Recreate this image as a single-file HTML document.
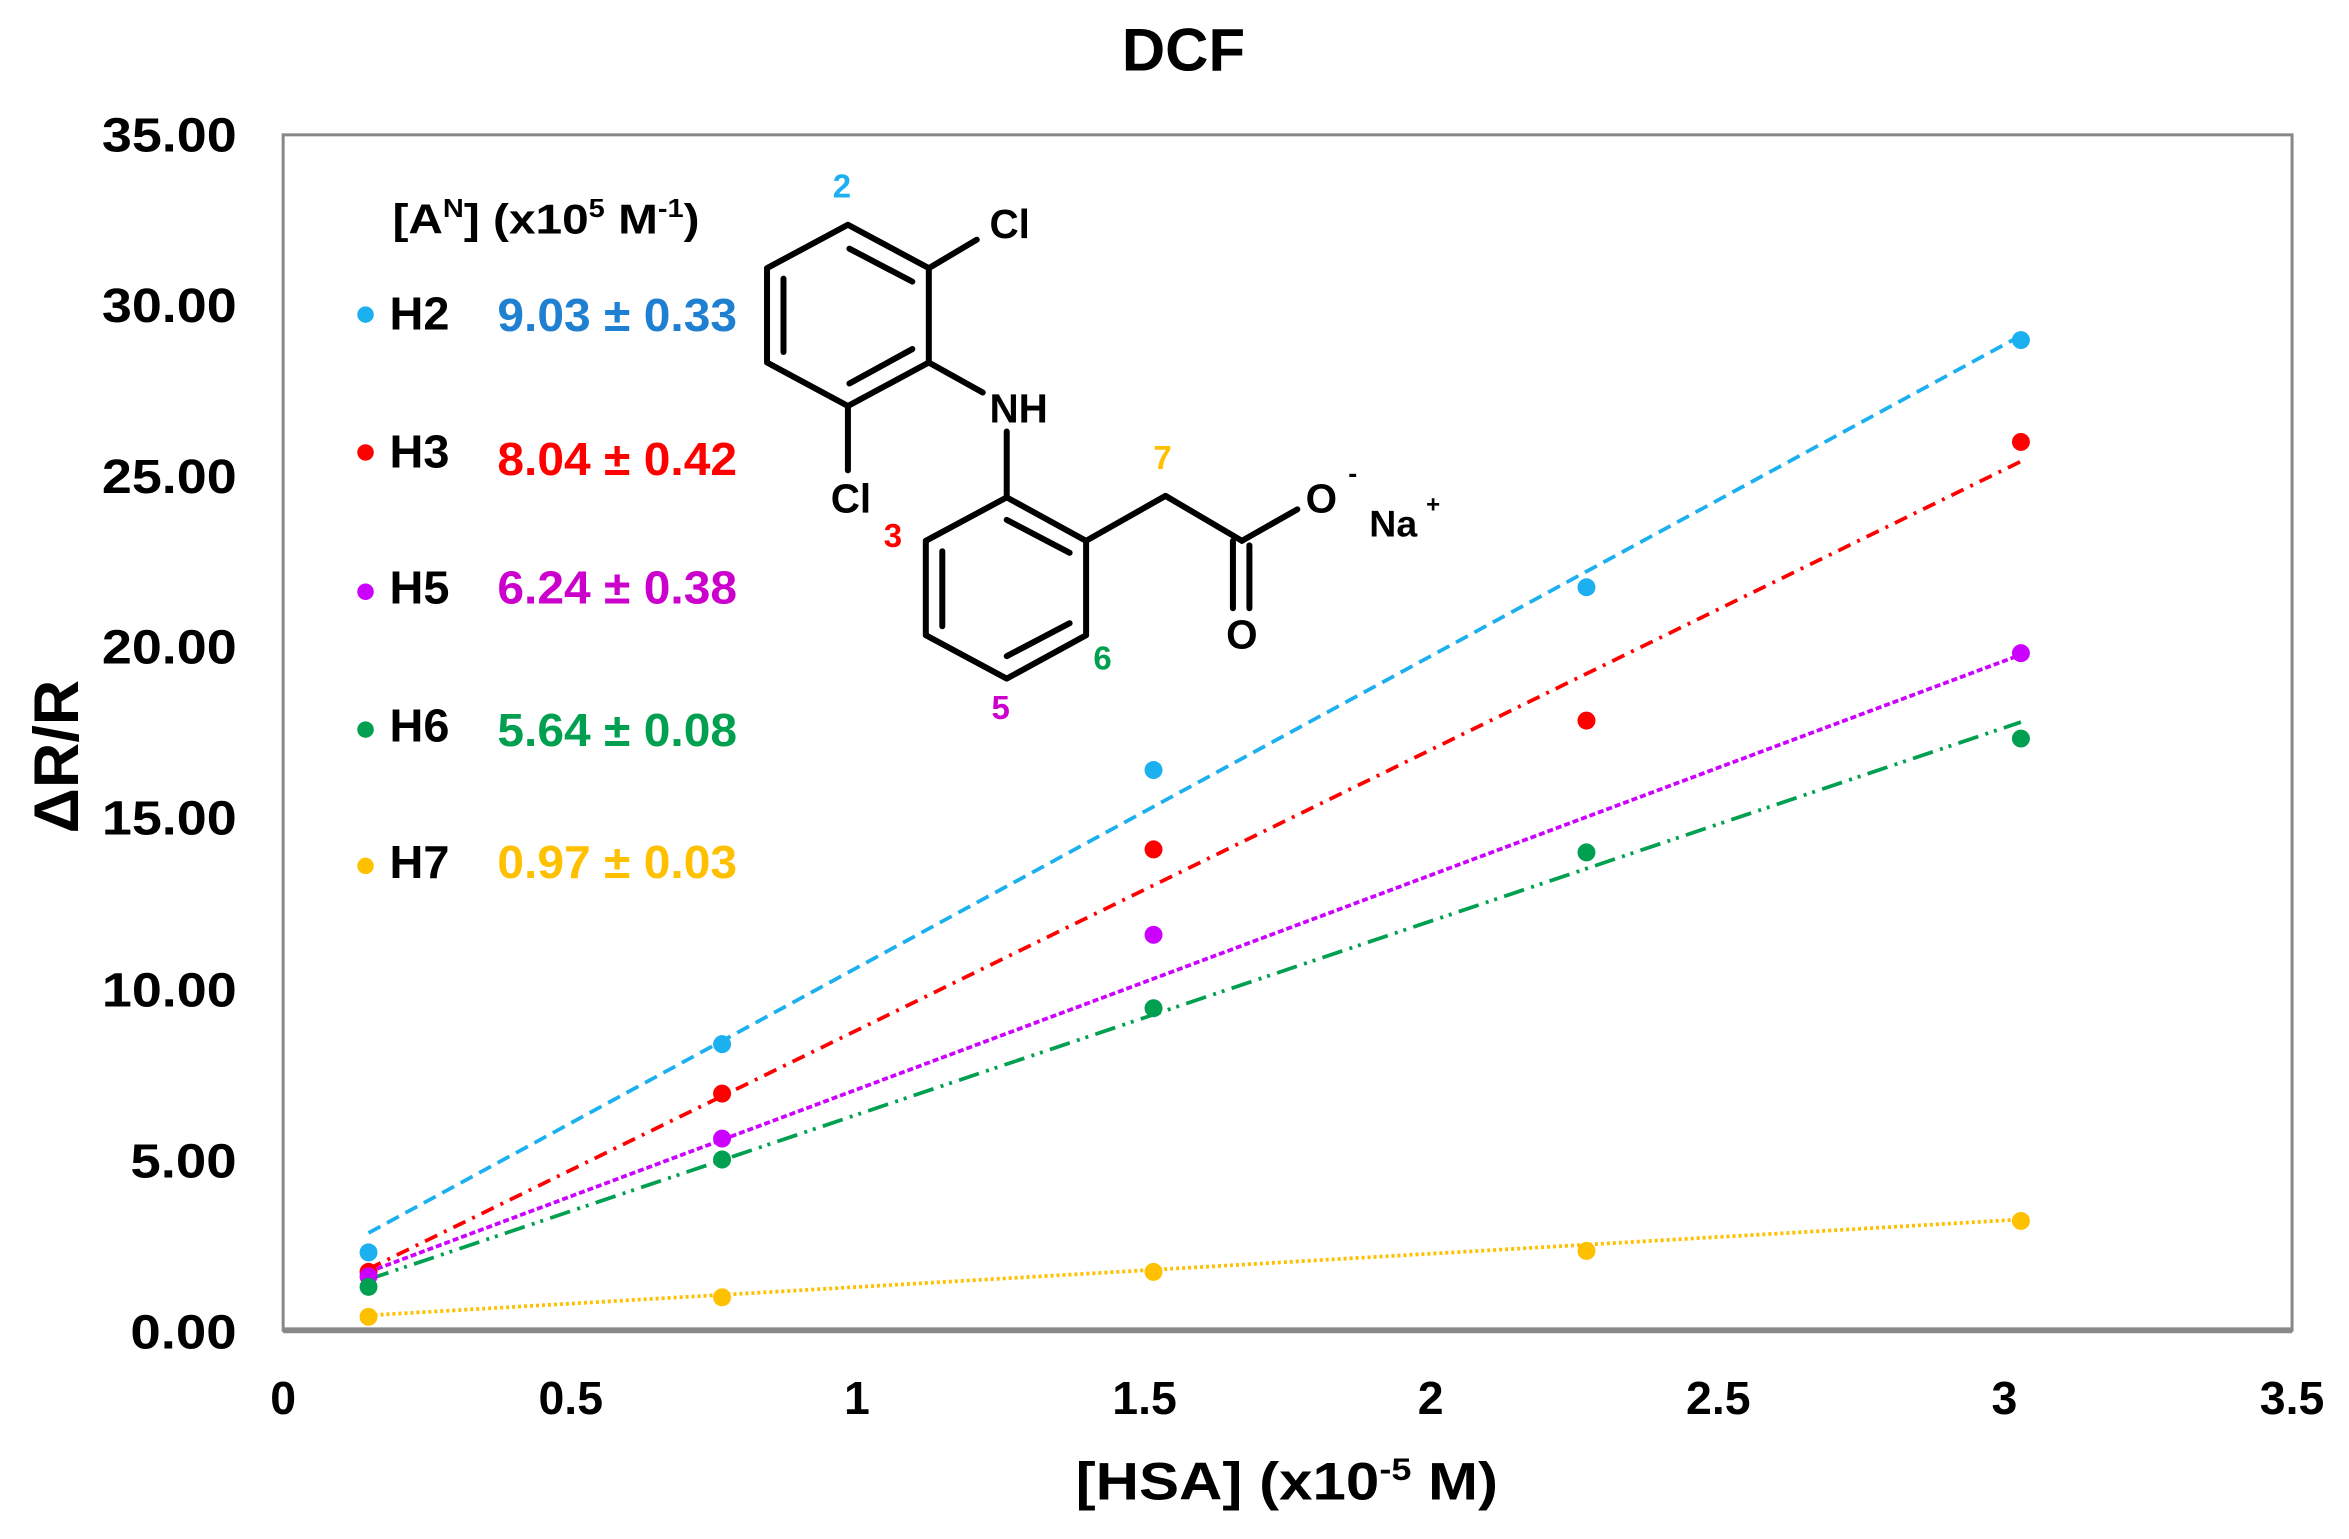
<!DOCTYPE html>
<html><head><meta charset="utf-8"><style>html,body{margin:0;padding:0;background:#fff}svg{display:block}text{font-family:"Liberation Sans",Arial,sans-serif;font-weight:bold}</style></head><body>
<svg width="2349" height="1539" viewBox="0 0 1568 1027.3" xmlns="http://www.w3.org/2000/svg">
<rect x="0" y="0" width="1568" height="1028" fill="#fff"/>
<text x="790" y="47" font-size="40" text-anchor="middle">DCF</text>
<rect x="189" y="90" width="1341" height="798" fill="none" stroke="#888" stroke-width="2"/>
<line x1="189" y1="888" x2="1530" y2="888" stroke="#888" stroke-width="4"/>
<g font-size="32">
<text x="68" y="101" textLength="90" lengthAdjust="spacingAndGlyphs">35.00</text><text x="68" y="215" textLength="90" lengthAdjust="spacingAndGlyphs">30.00</text><text x="68" y="329" textLength="90" lengthAdjust="spacingAndGlyphs">25.00</text><text x="68" y="443" textLength="90" lengthAdjust="spacingAndGlyphs">20.00</text><text x="68" y="557" textLength="90" lengthAdjust="spacingAndGlyphs">15.00</text><text x="68" y="672" textLength="90" lengthAdjust="spacingAndGlyphs">10.00</text><text x="87" y="786" textLength="71" lengthAdjust="spacingAndGlyphs">5.00</text><text x="87" y="900" textLength="71" lengthAdjust="spacingAndGlyphs">0.00</text>
</g>
<g font-size="31" text-anchor="middle">
<text x="189" y="944">0</text><text x="381" y="944">0.5</text><text x="572" y="944">1</text><text x="764" y="944">1.5</text><text x="955" y="944">2</text><text x="1147" y="944">2.5</text><text x="1338" y="944">3</text><text x="1530" y="944">3.5</text>
</g>
<text x="718" y="1001" font-size="35" textLength="282" lengthAdjust="spacingAndGlyphs">[HSA] (x10<tspan dy="-13" font-size="21">-5</tspan><tspan dy="13"> M)</tspan></text>
<text transform="translate(52,505) rotate(-90)" font-size="42" text-anchor="middle">ΔR/R</text>
<line x1="246" y1="823" x2="1349" y2="224" stroke="#1CB0F0" stroke-width="2.5" stroke-dasharray="9,5"/>
<line x1="246" y1="847" x2="1349" y2="308" stroke="#FF0000" stroke-width="2.5" stroke-dasharray="9,5,2,5"/>
<line x1="246" y1="849" x2="1349" y2="437" stroke="#CC00FF" stroke-width="2.5" stroke-dasharray="4,2"/>
<line x1="246" y1="854" x2="1349" y2="482" stroke="#00A050" stroke-width="2.5" stroke-dasharray="14,5,2,4,2,5"/>
<line x1="246" y1="878" x2="1349" y2="814" stroke="#FFC000" stroke-width="2.5" stroke-dasharray="2,2"/>
<g fill="#1CB0F0"><circle cx="246" cy="836" r="6"/><circle cx="482" cy="697" r="6"/><circle cx="770" cy="514" r="6"/><circle cx="1059" cy="392" r="6"/><circle cx="1349" cy="227" r="6"/></g>
<g fill="#FF0000"><circle cx="246" cy="849" r="6"/><circle cx="482" cy="730" r="6"/><circle cx="770" cy="567" r="6"/><circle cx="1059" cy="481" r="6"/><circle cx="1349" cy="295" r="6"/></g>
<g fill="#CC00FF"><circle cx="246" cy="852" r="6"/><circle cx="482" cy="760" r="6"/><circle cx="770" cy="624" r="6"/><circle cx="1349" cy="436" r="6"/></g>
<g fill="#00A050"><circle cx="246" cy="859" r="6"/><circle cx="482" cy="774" r="6"/><circle cx="770" cy="673" r="6"/><circle cx="1059" cy="569" r="6"/><circle cx="1349" cy="493" r="6"/></g>
<g fill="#FFC000"><circle cx="246" cy="879" r="6"/><circle cx="482" cy="866" r="6"/><circle cx="770" cy="849" r="6"/><circle cx="1059" cy="835" r="6"/><circle cx="1349" cy="815" r="6"/></g>
<text x="262" y="156" font-size="28" textLength="205" lengthAdjust="spacingAndGlyphs">[A<tspan dy="-11" font-size="17">N</tspan><tspan dy="11">] (x10</tspan><tspan dy="-11" font-size="17">5</tspan><tspan dy="11"> M</tspan><tspan dy="-11" font-size="17">-1</tspan><tspan dy="11">)</tspan></text>
<g font-size="31">
<circle cx="244" cy="210" r="5.5" fill="#1CB0F0"/><text x="260" y="220" textLength="40" lengthAdjust="spacingAndGlyphs">H2</text><text x="332" y="221" fill="#1F7FD0" textLength="160" lengthAdjust="spacingAndGlyphs">9.03 ± 0.33</text>
<circle cx="244" cy="302" r="5.5" fill="#FF0000"/><text x="260" y="312" textLength="40" lengthAdjust="spacingAndGlyphs">H3</text><text x="332" y="317" fill="#FF0000" textLength="160" lengthAdjust="spacingAndGlyphs">8.04 ± 0.42</text>
<circle cx="244" cy="395" r="5.5" fill="#CC00FF"/><text x="260" y="403" textLength="40" lengthAdjust="spacingAndGlyphs">H5</text><text x="332" y="403" fill="#CC00CC" textLength="160" lengthAdjust="spacingAndGlyphs">6.24 ± 0.38</text>
<circle cx="244" cy="487" r="5.5" fill="#00A050"/><text x="260" y="495" textLength="40" lengthAdjust="spacingAndGlyphs">H6</text><text x="332" y="498" fill="#00A050" textLength="160" lengthAdjust="spacingAndGlyphs">5.64 ± 0.08</text>
<circle cx="244" cy="578" r="5.5" fill="#FFC000"/><text x="260" y="586" textLength="40" lengthAdjust="spacingAndGlyphs">H7</text><text x="332" y="586" fill="#FFC000" textLength="160" lengthAdjust="spacingAndGlyphs">0.97 ± 0.03</text>
</g>
<g stroke="#000" stroke-width="4" fill="none" stroke-linecap="round" stroke-linejoin="round">
<polygon points="566,150 620,179 620,242 566,271 512,242 512,179"/>
<line x1="567" y1="166" x2="609" y2="188"/><line x1="523" y1="186" x2="523" y2="235"/><line x1="567" y1="256" x2="609" y2="233"/>
<line x1="620" y1="179" x2="652" y2="160"/>
<line x1="566" y1="271" x2="566" y2="314"/>
<line x1="620" y1="242" x2="656" y2="262"/>
<line x1="672" y1="288" x2="672" y2="332"/>
<polygon points="672,332 725,361 725,424 672,453 618,424 618,361"/>
<line x1="672" y1="347" x2="714" y2="369"/><line x1="629" y1="368" x2="629" y2="418"/><line x1="672" y1="438" x2="714" y2="416"/>
<line x1="725" y1="361" x2="778" y2="331"/><line x1="778" y1="331" x2="829" y2="361"/>
<line x1="829" y1="361" x2="866" y2="340"/>
<line x1="823" y1="361" x2="823" y2="406"/><line x1="834" y1="364" x2="834" y2="406"/>
</g>
<text x="674" y="159" font-size="27" text-anchor="middle" font-weight="normal">Cl</text>
<text x="680" y="282" font-size="27" text-anchor="middle" font-weight="normal">NH</text>
<text x="568" y="342" font-size="27" text-anchor="middle" font-weight="normal">Cl</text>
<text x="829" y="433" font-size="27" text-anchor="middle" font-weight="normal">O</text>
<text x="882" y="342" font-size="27" text-anchor="middle" font-weight="normal">O</text>
<text x="900" y="322" font-size="18" font-weight="normal">-</text>
<text x="930" y="358" font-size="25" text-anchor="middle" font-weight="normal">Na</text>
<text x="952" y="342" font-size="16" font-weight="normal">+</text>
<g font-size="22">
<text x="562" y="132" fill="#1CB0F0" text-anchor="middle">2</text>
<text x="596" y="365" fill="#FF0000" text-anchor="middle">3</text>
<text x="776" y="313" fill="#FFC000" text-anchor="middle">7</text>
<text x="736" y="447" fill="#00A050" text-anchor="middle">6</text>
<text x="668" y="480" fill="#CC00CC" text-anchor="middle">5</text>
</g>
</svg>
</body></html>
